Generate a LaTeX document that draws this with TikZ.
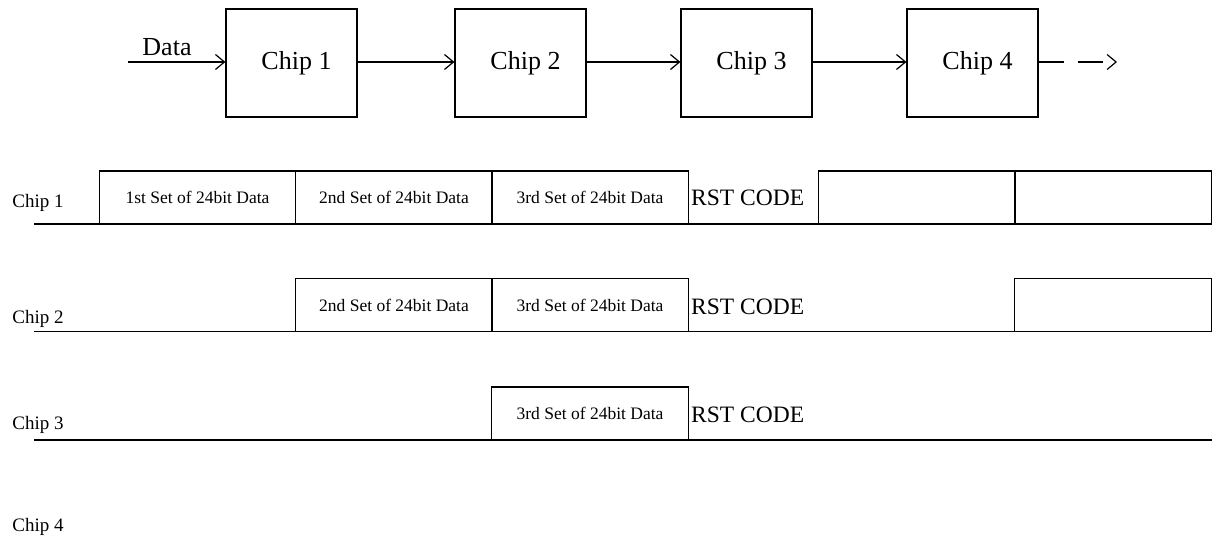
\documentclass[tikz,border=0pt]{standalone}
\usepackage{fontspec}
\setmainfont{Liberation Serif}
\usetikzlibrary{arrows.meta,positioning}

\tikzset{
  chipbox/.style={draw, line width=1.2pt, minimum width=131pt, minimum height=108pt, inner sep=0pt, font=\fontsize{26}{30}\selectfont},
  slotbox/.style={draw, line width=1.2pt, minimum width=196.5pt, minimum height=53pt, inner sep=0pt, font=\fontsize{17.5}{20}\selectfont},
  rowlabel/.style={font=\fontsize{19}{22}\selectfont, inner sep=0pt},
  rstlabel/.style={font=\fontsize{23.5}{27}\selectfont, anchor=west, inner sep=0pt},
  flow/.style={line width=1.2pt, -{Straight Barb[length=9pt,width=15pt]}},
  wire/.style={line width=1.2pt},
}

\begin{document}
\begin{tikzpicture}[x=1pt, y=-1pt]
    \useasboundingbox (0,0) rectangle (1216,548);

    % CADENA DE XIPS
    \foreach \i/\x in {1/291.5, 2/520.5, 3/746.5, 4/972.5}
        \node[chipbox] (chip\i) at (\x,63) {\hspace*{10pt}Chip \i};
    \coordinate (datain) at (128,62);
    \coordinate (chainout) at (1117,62);
    \node[font=\fontsize{26}{30}\selectfont, inner sep=0pt] (datalbl) at (167,47) {Data};

    \draw[flow] (datain) -- (chip1.west |- datain);
    \foreach \i/\j in {1/2, 2/3, 3/4}
        \draw[flow] (chip\i.east |- datain) -- (chip\j.west |- datain);
    \draw[flow, dash pattern=on 25pt off 14pt] (chip4.east |- chainout) -- (chainout);

    % LINIES DE TEMPS
    \draw[wire] (34,224) -- (1211,224);
    \draw[wire] (34,331.5) -- (1211,331.5);
    \draw[wire] (34,440) -- (1212,440);

    % Etiquetes de fila
    \foreach \i/\y in {1/203, 2/319, 3/425, 4/527}
        \node[rowlabel] (row\i) at (38,\y) {Chip \i};

    % Fila 1
    \node[slotbox] (r1a) at (197.5,197.5) {1st Set of 24bit Data};
    \node[slotbox] (r1b) at (394,197.5) {2nd Set of 24bit Data};
    \node[slotbox] (r1c) at (590,197.5) {3rd Set of 24bit Data};
    \node[rstlabel] (rst1) at (691,198) {RST CODE};
    \node[slotbox] (r1e) at (917,197.5) {};
    \node[slotbox] (r1f) at (1113,197.5) {};

    % Fila 2
    \node[slotbox] (r2b) at (394,305) {2nd Set of 24bit Data};
    \node[slotbox] (r2c) at (590,305) {3rd Set of 24bit Data};
    \node[rstlabel] (rst2) at (691,307) {RST CODE};
    \node[slotbox] (r2f) at (1113,305) {};

    % Fila 3
    \node[slotbox] (r3c) at (590,413.5) {3rd Set of 24bit Data};
    \node[rstlabel] (rst3) at (691,415) {RST CODE};

\end{tikzpicture}
\end{document}
